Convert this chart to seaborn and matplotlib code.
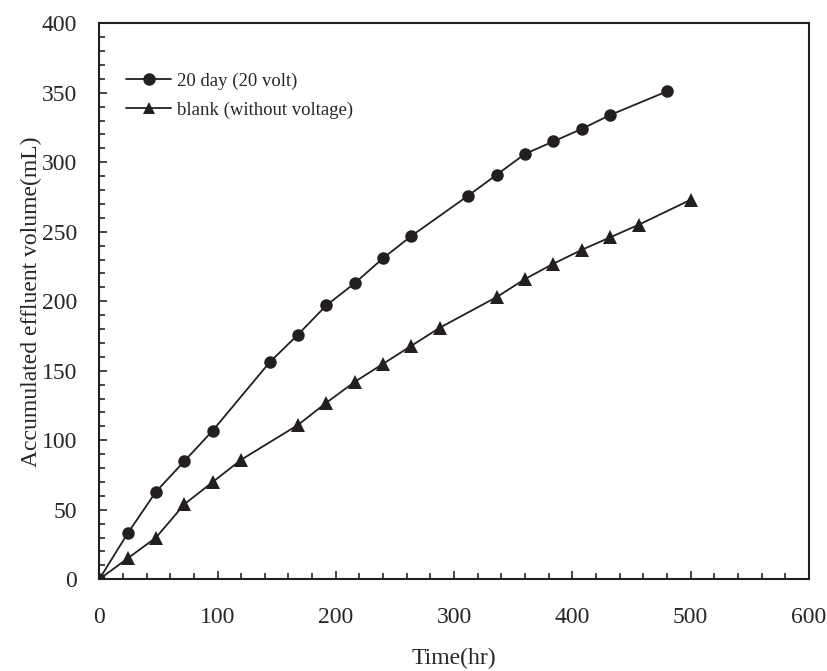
import numpy as np
import pandas as pd
import matplotlib
matplotlib.use("Agg")
import matplotlib.pyplot as plt
import seaborn as sns
from matplotlib.ticker import MultipleLocator

# values
time_volt = [0, 24, 48, 72, 96, 144, 168, 192, 216, 240, 264, 312, 336, 360, 384, 408, 432, 480]
vol_volt = [0, 33, 63, 85, 107, 156, 176, 197, 213, 231, 247, 276, 291, 306, 315, 324, 334, 351]

time_blank = [0, 24, 48, 72, 96, 120, 168, 192, 216, 240, 264, 288, 336, 360, 384, 408, 432, 456, 500]
vol_blank = [0, 15, 30, 54, 70, 86, 111, 127, 142, 155, 168, 181, 203, 216, 227, 237, 246, 255, 273]

labels = ["20 day (20 volt)", "blank (without voltage)"]

sns.set_style("ticks")
plt.rcParams["font.family"] = ["Liberation Serif", "DejaVu Serif"]

df = pd.concat([
    pd.DataFrame({"time": time_volt, "vol": vol_volt, "run": labels[0]}),
    pd.DataFrame({"time": time_blank, "vol": vol_blank, "run": labels[1]}),
])

fig = plt.figure(figsize=(8.27, 6.71), dpi=100)
ax = fig.add_axes([0.120, 0.1367, 0.858, 0.8286])

sns.lineplot(data=df, x="time", y="vol", hue="run", style="run",
             palette=["#231f20", "#231f20"], markers=["o", "^"], dashes=False,
             markersize=9, linewidth=1.3, markeredgewidth=0, sort=False, ax=ax)
ax.lines[1].set_markersize(10)

ax.set_xlim(0, 600)
ax.set_ylim(0, 400)
ax.xaxis.set_major_locator(MultipleLocator(100))
ax.xaxis.set_minor_locator(MultipleLocator(20))
ax.yaxis.set_major_locator(MultipleLocator(50))
ax.yaxis.set_minor_locator(MultipleLocator(10))
ax.tick_params(which="both", direction="in", top=False, right=False, width=1.2)
ax.tick_params(which="major", length=6, labelsize=17)
ax.tick_params(axis="x", which="major", pad=20)
ax.tick_params(axis="y", which="major", pad=16)
ax.tick_params(which="minor", length=4)
for sp in ax.spines.values():
    sp.set_linewidth(1.5)
    sp.set_color("#231f20")

ax.set_xlabel("Time(hr)", fontsize=17, labelpad=14)
ax.set_ylabel("Accumulated effluent volume(mL)", fontsize=17, labelpad=0)

leg = ax.legend(loc="upper left", bbox_to_anchor=(0.038, 0.912), frameon=False,
                fontsize=13.5, handlelength=2.4, handletextpad=0.3,
                labelspacing=0.65, borderpad=0, borderaxespad=0)
for h in leg.legend_handles:
    h.set_markersize(9)

fig.savefig("out.png", dpi=100)
plt.close()
